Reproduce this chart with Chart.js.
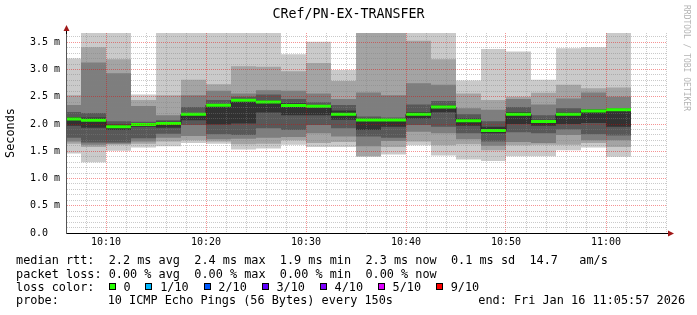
<!DOCTYPE html>
<html><head><meta charset="utf-8">
<script src="https://cdn.jsdelivr.net/npm/chart.js@4"></script>
<style>html,body{margin:0;padding:0;background:#fff;}canvas{display:block;}</style>
</head><body>
<canvas id="c" width="697" height="315"></canvas>
<script>
// time of the start of each 150 s step, minutes after 10:00
const stepStartMin = [5.0,7.5,10.0,12.5,15.0,17.5,20.0,22.5,25.0,27.5,30.0,32.5,35.0,37.5,40.0,42.5,45.0,47.5,50.0,52.5,55.0,57.5,60.0];
const stepEndMin = 62.5;
// sorted ping round-trip times per step (ms)
const ping01 = [1.46,1.30,1.51,1.57,1.59,1.65,1.64,1.53,1.55,1.62,1.58,1.58,1.40,1.44,1.61,1.42,1.35,1.32,1.41,1.41,1.52,1.57,1.40];
const ping02 = [1.64,1.58,1.62,1.64,1.68,1.70,1.68,1.63,1.64,1.70,1.65,1.67,1.41,1.58,1.68,1.61,1.63,1.52,1.61,1.62,1.62,1.65,1.58];
const ping03 = [1.68,1.62,1.64,1.68,1.75,1.78,1.72,1.73,1.75,1.76,1.83,1.77,1.59,1.69,1.86,1.83,1.72,1.60,1.67,1.65,1.80,1.70,1.70];
const ping04 = [1.75,1.66,1.66,1.74,1.82,1.98,1.81,1.80,1.92,1.89,1.98,1.92,1.77,1.75,1.98,1.95,1.83,1.68,1.85,1.83,1.90,1.81,1.79];
const ping05 = [1.97,1.93,1.89,1.95,1.93,2.07,1.99,2.01,2.21,2.16,2.16,2.08,1.89,1.95,2.10,2.215,1.97,1.83,2.00,1.97,2.00,2.02,1.95];
const ping06 = [2.13,2.12,1.99,2.01,2.04,2.20,2.36,2.45,2.43,2.38,2.34,2.25,2.10,2.09,2.22,2.34,2.10,1.95,2.22,2.08,2.21,2.26,2.27];
const ping07 = [2.22,2.20,2.05,2.04,2.07,2.31,2.44,2.50,2.54,2.46,2.40,2.35,2.14,2.12,2.36,2.42,2.18,2.05,2.31,2.16,2.29,2.27,2.29];
const ping08 = [2.35,3.13,2.93,2.33,2.16,2.53,2.61,2.56,2.62,2.61,2.56,2.46,2.58,2.53,2.75,2.72,2.29,2.26,2.46,2.36,2.47,2.58,2.50];
const ping09 = [2.53,3.41,3.19,2.44,2.53,2.81,2.73,3.06,3.05,2.97,3.12,2.79,3.85,3.85,3.53,3.19,2.56,2.44,2.50,2.575,2.72,2.655,2.67];
const ping10 = [3.20,3.95,3.95,2.54,3.95,3.95,3.95,3.95,3.95,3.28,3.51,2.99,3.95,3.95,3.95,3.95,2.80,3.375,3.33,2.81,3.39,3.41,3.95];
const median = [2.09,2.07,1.95,1.99,2.01,2.18,2.345,2.435,2.405,2.34,2.325,2.18,2.075,2.075,2.18,2.31,2.06,1.88,2.18,2.045,2.18,2.24,2.26];

const xMajorTicks = [10,20,30,40,50,60];
const xTickLabels = ['10:10','10:20','10:30','10:40','10:50','11:00'];
const yMajorTicks = [0,0.5,1.0,1.5,2.0,2.5,3.0,3.5];
const yTickLabels = ['0.0  ','0.5 m','1.0 m','1.5 m','2.0 m','2.5 m','3.0 m','3.5 m'];

const smokeColors = ['#cacaca','#a4a4a4','#7e7e7e','#585858','#323232'];
const lossColors = ['#26ff00','#00b8ff','#0059ff','#5e00ff','#7e00ff','#dd00ff','#ff0000'];
const lossLabels = ['0','1/10','2/10','3/10','4/10','5/10','9/10'];

const MONO = '"DejaVu Sans Mono", monospace';
const majorGrid = 'rgba(230,0,0,0.42)';
const minorGrid = 'rgba(128,128,128,0.42)';

function steps(arr){
  const pts = stepStartMin.map((t,i)=>({x:t, y:arr[i]}));
  pts.push({x:stepEndMin, y:arr[arr.length-1]});
  return pts;
}
const pings = [ping01,ping02,ping03,ping04,ping05,ping06,ping07,ping08,ping09,ping10];
const base = {stepped:true, pointRadius:0, borderWidth:0, borderColor:'rgba(0,0,0,0)', tension:0};
const datasets = [];
for (let k=0;k<5;k++){
  const lowIdx = datasets.length;
  datasets.push(Object.assign({}, base, {data:steps(pings[k]), fill:false, order:20-2*k}));
  datasets.push(Object.assign({}, base, {data:steps(pings[9-k]), fill:{target:lowIdx}, backgroundColor:smokeColors[k], order:19-2*k}));
}
const medHalf = 0.0275; // half height of the loss-coloured median band (ms)
datasets.push(Object.assign({}, base, {data:steps(median), borderColor:'#202020', borderWidth:1, fill:false, order:3}));
const medLowIdx = datasets.length;
datasets.push(Object.assign({}, base, {data:steps(median.map(v=>v-medHalf)), fill:false, order:2}));
datasets.push(Object.assign({}, base, {data:steps(median.map(v=>v+medHalf)), fill:{target:medLowIdx}, backgroundColor:lossColors[0], order:1}));

const decor = {
  id:'decor',
  afterDraw(chart){
    const ctx = chart.ctx, a = chart.chartArea;
    ctx.save();
    // axis extensions
    ctx.strokeStyle = '#000'; ctx.lineWidth = 1;
    ctx.beginPath(); ctx.moveTo(a.left+0.5, a.top+1); ctx.lineTo(a.left+0.5, a.top-3); ctx.stroke();
    ctx.beginPath(); ctx.moveTo(a.right-1, a.bottom+0.5); ctx.lineTo(a.right+3, a.bottom+0.5); ctx.stroke();
    // arrows
    ctx.fillStyle = '#a01818';
    ctx.beginPath(); ctx.moveTo(a.left-2.5, a.top-2); ctx.lineTo(a.left+3.5, a.top-2); ctx.lineTo(a.left+0.5, a.top-8); ctx.closePath(); ctx.fill();
    ctx.beginPath(); ctx.moveTo(a.right+2, a.bottom-2.5); ctx.lineTo(a.right+2, a.bottom+3.5); ctx.lineTo(a.right+8, a.bottom+0.5); ctx.closePath(); ctx.fill();
    // title
    ctx.fillStyle = '#000';
    ctx.font = '13.3px ' + MONO; ctx.textAlign = 'center'; ctx.textBaseline = 'alphabetic';
    ctx.fillText('CRef/PN-EX-TRANSFER', 348.5, 18);
    // y axis title
    ctx.save(); ctx.translate(11, 133); ctx.rotate(-Math.PI/2);
    ctx.font = '11.85px ' + MONO; ctx.textBaseline = 'middle'; ctx.textAlign = 'center';
    ctx.fillText('Seconds', 0, 0); ctx.restore();
    // watermark
    ctx.save(); ctx.translate(686, 5); ctx.rotate(Math.PI/2);
    ctx.font = '8px ' + MONO; ctx.fillStyle = '#b4b4b4'; ctx.textAlign = 'left'; ctx.textBaseline = 'middle';
    ctx.fillText('RRDTOOL / TOBI OETIKER', 0, 0); ctx.restore();
    // legend rows
    ctx.font = '11.85px ' + MONO; ctx.textAlign = 'left'; ctx.textBaseline = 'alphabetic'; ctx.fillStyle = '#000';
    ctx.fillText('median rtt:  2.2 ms avg  2.4 ms max  1.9 ms min  2.3 ms now  0.1 ms sd  14.7   am/s', 16, 264.3);
    ctx.fillText('packet loss: 0.00 % avg  0.00 % max  0.00 % min  0.00 % now', 16, 277.7);
    ctx.fillText('loss color:', 16, 291);
    const boxX = [108.7,145.4,203.5,261.6,319.7,377.8,435.9];
    for (let i=0;i<lossColors.length;i++){
      const bx = Math.round(boxX[i]);
      ctx.fillStyle = lossColors[i]; ctx.fillRect(bx, 283, 7, 7);
      ctx.strokeStyle = '#000'; ctx.lineWidth = 1; ctx.strokeRect(bx+0.5, 283.5, 6, 6);
      ctx.fillStyle = '#000'; ctx.fillText(lossLabels[i], boxX[i]+14.8, 291);
    }
    ctx.fillText('probe:', 16, 304.3);
    ctx.fillText('10 ICMP Echo Pings (56 Bytes) every 150s', 107.7, 304.3);
    ctx.fillText('end: Fri Jan 16 11:05:57 2026', 478.3, 304.3);
    ctx.restore();
  }
};

const xGrid = [];
for (let m=8; m<=66; m+=2) xGrid.push(m);
const yGrid = [];
for (let i=0; i<=36; i++) yGrid.push(i/10);

new Chart(document.getElementById('c'), {
  type:'line',
  data:{datasets},
  options:{
    responsive:false, animation:false, events:[],
    layout:{padding:{left:0, right:31, top:33, bottom:0}},
    plugins:{legend:{display:false}, tooltip:{enabled:false}, title:{display:false}},
    scales:{
      x:{
        type:'linear', min:6, max:66,
        afterBuildTicks(s){ s.ticks = xGrid.map(v=>({value:v})); },
        afterFit(s){ s.height = 82; },
        ticks:{autoSkip:false, maxRotation:0, padding:3, color:'#000', font:{family:MONO, size:10},
          callback(v){ const i = xMajorTicks.indexOf(v); return i<0 ? '' : xTickLabels[i]; }},
        grid:{drawTicks:false, z:1, lineWidth:1,
          color(c){ return (c.tick && xMajorTicks.indexOf(c.tick.value)>=0) ? majorGrid : minorGrid; }},
        border:{display:true, color:'#000', width:1, dash:[1,1], z:2}
      },
      y:{
        type:'linear', min:0, max:3.67,
        afterBuildTicks(s){ s.ticks = yGrid.map(v=>({value:v})); },
        afterFit(s){ s.width = 66; },
        ticks:{autoSkip:false, padding:6, color:'#000', font:{family:MONO, size:10},
          callback(v){ const i = yMajorTicks.findIndex(m=>Math.abs(m-v)<1e-6); return i<0 ? '' : yTickLabels[i]; }},
        grid:{drawTicks:false, z:1, lineWidth:1,
          color(c){ if(!c.tick) return minorGrid; const v=c.tick.value; return yMajorTicks.some(m=>Math.abs(m-v)<1e-6) ? majorGrid : minorGrid; }},
        border:{display:true, color:'#555', width:1, dash:[1,1], z:2}
      }
    }
  },
  plugins:[decor]
});
</script>
</body></html>
